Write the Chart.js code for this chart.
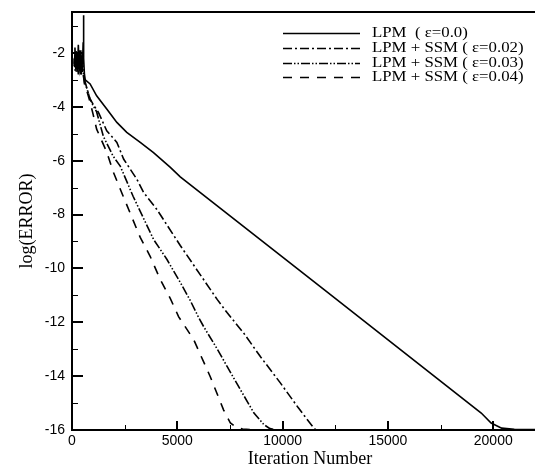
<!DOCTYPE html>
<html>
<head>
<meta charset="utf-8">
<title>log(ERROR) vs Iteration Number</title>
<script src="https://cdn.jsdelivr.net/npm/chart.js@4/dist/chart.umd.min.js"></script>
<style>
  html, body { margin: 0; padding: 0; background: #fff; overflow: hidden; }
  #wrap { width: 548px; height: 466px; }
</style>
</head>
<body>
<div id="wrap"><canvas id="chart-error" width="548" height="466"></canvas></div>
<script>
'use strict';

/* ===================================================
   DATA  — convergence history, log10 of the residual
   =================================================== */

const X_MIN = 0;
const X_MAX = 22600;
const Y_MIN = -16;
const Y_MAX = -0.48;

const X_TICKS = [0, 5000, 10000, 15000, 20000];
const Y_TICKS = [-16, -14, -12, -10, -8, -6, -4, -2];
const X_MINOR = [2500, 7500, 12500, 17500, 22500];
const Y_MINOR = [-15, -13, -11, -9, -7, -5, -3, -1];

const LABELS = [
  'LPM  ( \u03b5=0.0)',
  'LPM + SSM ( \u03b5=0.02)',
  'LPM + SSM ( \u03b5=0.03)',
  'LPM + SSM ( \u03b5=0.04)',
];

// LPM, eps = 0.0
const lpmIter = [100, 140, 180, 220, 260, 300, 340, 380, 420, 460, 500, 530, 545, 560, 590, 630, 860, 1170,
  1650, 2130, 2600, 3240, 3870, 4670, 5140, 12000, 19430, 19900, 20400, 21000, 22600];
const lpmErr = [-2.3, -1.8, -2.6, -2.0, -2.7, -1.7, -2.5, -1.9, -2.8, -2.1, -2.4, -1.6, -0.6, -2.2, -2.8, -3.0,
  -3.15, -3.59, -4.08, -4.58, -4.95, -5.32, -5.7, -6.25, -6.6, -10.81, -15.37, -15.74, -15.93, -15.97, -15.98];

// LPM + SSM, eps = 0.02
const ssm02Iter = [100, 150, 200, 250, 300, 350, 400, 450, 500, 600, 700, 850, 1000, 1250, 1650, 2130, 2450,
  3080, 3400, 4030, 5140, 6900, 7370, 8150, 8950, 9900, 10710, 11480, 11600];
const ssm02Err = [-2.4, -2.0, -2.7, -2.1, -2.6, -1.9, -2.4, -2.2, -2.7, -3.0, -3.3, -3.7, -3.9, -4.2, -4.89,
  -5.32, -5.94, -6.69, -7.18, -7.81, -9.15, -11.16, -11.65, -12.4, -13.28, -14.26, -15.14, -15.93, -16];

// LPM + SSM, eps = 0.03
const ssm03Iter = [100, 150, 200, 250, 300, 350, 400, 450, 500, 600, 700, 850, 1000, 1170, 1490, 1950, 2290,
  2900, 3870, 4510, 5140, 5620, 6010, 6250, 6900, 7370, 8000, 8640, 9110, 9400, 9700];
const ssm03Err = [-2.2, -2.7, -1.9, -2.5, -2.1, -2.6, -2.3, -2.8, -2.3, -3.1, -3.3, -3.7, -3.95, -4.19, -5.1,
  -5.83, -6.2, -7.32, -8.92, -9.67, -10.52, -11.2, -11.82, -12.16, -13.0, -13.65, -14.51, -15.37, -15.8, -15.95, -16];

// LPM + SSM, eps = 0.04
const ssm04Iter = [100, 150, 200, 250, 300, 350, 400, 450, 500, 600, 700, 850, 1000, 1170, 1650, 1950, 2430,
  3240, 3710, 4190, 4670, 5060, 5780, 6570, 7200, 7520, 7800, 8100, 8600, 9100];
const ssm04Err = [-2.5, -2.1, -2.7, -2.2, -2.8, -2.0, -2.3, -2.6, -2.6, -3.2, -3.4, -3.8, -4.27, -4.83, -5.68,
  -6.4, -7.32, -8.85, -9.55, -10.41, -11.12, -11.79, -12.65, -14.03, -15.26, -15.74, -15.9, -15.96, -16, -16];

function toPoints(xs, ys) {
  return xs.map((x, i) => ({ x, y: ys[i] }));
}

/* ===================================================
   PLUGINS
   =================================================== */

// Frame on left / bottom / top plus inward major & minor ticks
const framePlugin = {
  id: 'frame',
  afterDatasetsDraw(chart) {
    const { ctx, chartArea, scales } = chart;
    const { left, right, top, bottom } = chartArea;
    const xs = scales.x;
    const ys = scales.y;

    function tick(x0, y0, x1, y1, w) {
      ctx.lineWidth = w;
      ctx.beginPath();
      ctx.moveTo(x0, y0);
      ctx.lineTo(x1, y1);
      ctx.stroke();
    }

    ctx.save();
    ctx.strokeStyle = '#000';
    ctx.lineCap = 'butt';

    ctx.lineWidth = 2;
    ctx.beginPath();
    ctx.moveTo(left, top);
    ctx.lineTo(right, top);
    ctx.moveTo(left, top - 1);
    ctx.lineTo(left, bottom + 1);
    ctx.moveTo(left - 1, bottom);
    ctx.lineTo(right, bottom);
    ctx.stroke();

    X_TICKS.forEach(v => {
      const px = Math.round(xs.getPixelForValue(v));
      tick(px, bottom, px, bottom - 9, 2);
    });
    X_MINOR.forEach(v => {
      const px = Math.round(xs.getPixelForValue(v)) + 0.5;
      tick(px, bottom, px, bottom - 5, 1);
    });
    Y_TICKS.forEach(v => {
      const py = Math.round(ys.getPixelForValue(v));
      tick(left, py, left + 11, py, 2);
    });
    Y_MINOR.forEach(v => {
      const py = Math.round(ys.getPixelForValue(v)) + 0.5;
      tick(left, py, left + 6, py, 1);
    });
    ctx.restore();
  },
};

// Legend sitting inside the plot, top right
const insetLegendPlugin = {
  id: 'insetLegend',
  afterDraw(chart) {
    const { ctx } = chart;
    const lineX0 = 283;
    const lineX1 = 360;
    const textX = 372;
    const rowY0 = 33;
    const rowGap = 14.8;
    ctx.save();
    ctx.font = '15px "Liberation Serif", "Times New Roman", serif';
    ctx.fillStyle = '#000';
    ctx.textBaseline = 'middle';
    chart.data.datasets.forEach((ds, i) => {
      const y = Math.round(rowY0 + i * rowGap) + 0.5;
      ctx.strokeStyle = '#000';
      ctx.lineWidth = ds.borderWidth;
      ctx.setLineDash(ds.borderDash || []);
      ctx.beginPath();
      ctx.moveTo(lineX0, y);
      ctx.lineTo(lineX1, y);
      ctx.stroke();
      ctx.setLineDash([]);
      // the text face here runs slightly wide
      ctx.save();
      ctx.translate(textX, y);
      ctx.scale(1.12, 1);
      ctx.fillText(ds.label, 0, 0);
      ctx.restore();
    });
    ctx.restore();
  },
};

/* ===================================================
   CHART
   =================================================== */

function lineSet(label, pts, dash) {
  return {
    label,
    data: pts,
    borderColor: '#000',
    backgroundColor: '#000',
    borderWidth: 1.6,
    borderDash: dash,
    pointRadius: 0,
    fill: false,
    tension: 0,
  };
}

const tickFont = { family: '"Liberation Sans", Arial, sans-serif', size: 14 };
const titleFont = { family: '"Liberation Serif", "Times New Roman", serif', size: 18 };

new Chart(document.getElementById('chart-error').getContext('2d'), {
  type: 'line',
  data: {
    datasets: [
      lineSet(LABELS[0], toPoints(lpmIter, lpmErr), []),
      lineSet(LABELS[1], toPoints(ssm02Iter, ssm02Err), [9, 3, 2, 3]),
      lineSet(LABELS[2], toPoints(ssm03Iter, ssm03Err), [9, 2, 1.5, 2, 1.5, 2]),
      lineSet(LABELS[3], toPoints(ssm04Iter, ssm04Err), [9, 8]),
    ],
  },
  options: {
    responsive: false,
    animation: false,
    devicePixelRatio: 1,
    layout: { padding: { top: 12, right: 0, left: 0, bottom: 0 } },
    plugins: {
      legend: { display: false },
      tooltip: { enabled: false },
    },
    scales: {
      x: {
        type: 'linear',
        min: X_MIN,
        max: X_MAX,
        grid: { display: false },
        border: { display: false },
        afterBuildTicks(scale) { scale.ticks = X_TICKS.map(v => ({ value: v })); },
        ticks: {
          autoSkip: false,
          maxRotation: 0,
          padding: -5,
          color: '#000',
          font: tickFont,
          callback: v => String(v),
        },
        title: {
          display: true,
          text: 'Iteration Number',
          color: '#000',
          font: titleFont,
          padding: { top: 0, bottom: -4 },
        },
        afterFit(scale) { scale.height = 36; },
      },
      y: {
        type: 'linear',
        min: Y_MIN,
        max: Y_MAX,
        grid: { display: false },
        border: { display: false },
        afterBuildTicks(scale) { scale.ticks = Y_TICKS.map(v => ({ value: v })); },
        ticks: {
          padding: -1,
          color: '#000',
          font: tickFont,
          callback: v => String(v),
        },
        title: {
          display: true,
          text: 'log(ERROR)',
          color: '#000',
          font: titleFont,
          padding: { top: 16, bottom: 0 },
        },
        afterFit(scale) { scale.width = 72; },
      },
    },
  },
  plugins: [framePlugin, insetLegendPlugin],
});
</script>
</body>
</html>
